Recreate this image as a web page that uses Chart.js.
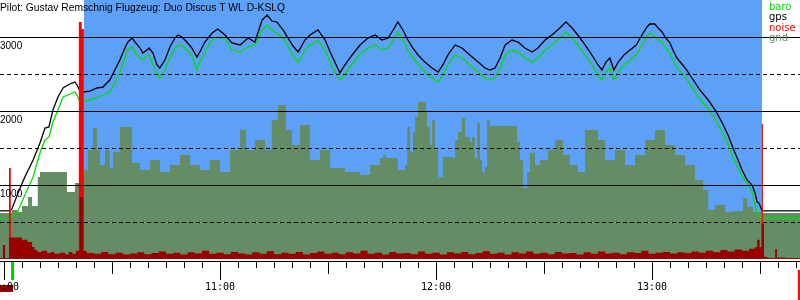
<!DOCTYPE html>
<html>
<head>
<meta charset="utf-8">
<script src="https://cdn.jsdelivr.net/npm/chart.js@4"></script>
<style>
  body { margin: 0; background: #fff; }
</style>
</head>
<body>
<canvas id="barogram" width="800" height="300"></canvas>
<script>
// all times are minutes after 10:00
const trackTime = [-1.1,1.7,2.2,3.9,5.8,8.1,10.0,11.4,12.5,13.6,
  15.0,16.4,17.8,18.9,19.7,20.3,21.1,21.9,23.9,25.8,
  27.5,29.4,30.8,32.2,33.6,34.4,35.6,36.4,37.8,38.6,
  39.7,40.3,41.4,42.5,43.3,44.7,46.1,47.5,48.3,49.4,
  50.8,52.2,53.6,54.4,55.8,57.8,59.4,61.4,63.3,65.6,
  67.8,69.7,71.7,73.1,74.4,75.8,77.5,78.9,80.3,81.7,
  83.6,85.0,87.2,89.2,90.6,91.9,93.3,94.7,96.7,98.9,
  101.1,103.1,105.0,106.7,108.1,109.4,110.8,112.2,113.6,115.0,
  116.9,118.9,120.6,121.9,123.3,125.3,127.2,129.4,131.7,133.6,
  135.0,136.4,137.8,139.2,141.1,142.8,144.7,146.7,148.3,150.3,
  152.2,154.4,156.1,157.8,159.4,161.4,163.3,165.0,166.1,167.2,
  168.3,169.4,170.6,172.2,173.9,175.6,177.2,178.6,179.4,180.8,
  181.7,182.8,183.6,185.0,185.8,186.9,189.2,191.1,193.3,195.6,
  197.5,199.4,201.1,202.5,203.9,205.0,206.4,207.8,208.6,209.2,
  209.7,210.6,221.1];
const gpsAlt = [649,649,676,892,1108,1338,1568,1770,1784,2014,
  2189,2311,2351,2378,2392,2351,2270,2257,2270,2311,
  2324,2419,2554,2689,2851,2932,2986,2932,2851,2784,
  2824,2851,2784,2622,2581,2689,2865,2986,3027,3000,
  2932,2851,2730,2797,2932,3054,3108,3027,2919,2892,
  2986,2932,3230,3297,3216,3203,3095,2986,2878,2797,
  2959,3027,3095,2959,2797,2662,2514,2622,2757,2892,
  2986,3027,2959,2986,3095,3203,3095,2959,2851,2757,
  2662,2581,2527,2622,2757,2892,2851,2757,2662,2581,
  2554,2581,2716,2892,2959,2932,2851,2797,2851,2959,
  3027,3122,3203,3122,3027,2892,2757,2622,2554,2662,
  2716,2554,2662,2757,2824,2892,3027,3135,3176,3176,
  3122,3068,3000,2919,2824,2716,2581,2446,2284,2149,
  2014,1851,1676,1500,1338,1203,1068,1000,892,770,
  757,649,649];
const baroAlt = [541,541,568,649,865,1108,1432,1608,1649,1851,
  2014,2189,2216,2243,2257,2216,2122,2122,2149,2176,
  2216,2257,2378,2527,2716,2824,2865,2797,2716,2703,
  2743,2757,2622,2500,2446,2554,2730,2851,2878,2892,
  2824,2743,2554,2662,2797,2959,3000,2973,2824,2797,
  2865,2892,3095,3162,3095,3054,2986,2878,2743,2662,
  2824,2892,2959,2824,2662,2527,2419,2500,2635,2770,
  2851,2892,2824,2851,2959,3068,2959,2824,2716,2635,
  2527,2446,2392,2486,2622,2757,2716,2622,2527,2446,
  2419,2446,2581,2757,2824,2797,2716,2662,2716,2824,
  2892,2986,3068,2986,2892,2757,2622,2486,2419,2527,
  2581,2419,2527,2622,2689,2757,2892,3014,3054,3000,
  2959,2932,2865,2784,2689,2595,2459,2324,2162,2027,
  1892,1730,1554,1378,1230,1122,1027,905,730,622,
  581,554,554];

const gndTime = [-1.1,2.2,3.9,5.0,6.7,7.8,9.4,10.0,17.5,19.7,
  21.1,22.2,23.3,24.7,25.8,26.7,28.1,29.4,30.3,32.2,
  35.6,37.8,40.6,43.3,46.1,48.9,51.7,54.4,57.2,60.0,
  62.8,65.6,67.2,69.7,72.5,74.4,76.1,78.3,80.0,82.2,
  85.0,87.8,90.6,94.7,98.9,101.7,104.4,105.3,106.1,109.4,
  111.4,112.0,112.8,113.6,114.2,115.0,117.2,117.5,118.3,118.9,
  119.7,120.6,121.9,124.4,125.3,126.1,127.2,128.1,129.4,130.0,
  130.8,131.4,132.2,132.8,133.6,134.2,135.0,142.5,143.3,144.2,
  145.3,146.1,147.5,148.9,151.1,153.1,155.3,157.2,159.4,161.4,
  165.0,166.9,169.7,172.5,175.3,178.1,180.8,183.6,186.4,189.2,
  191.9,194.2,195.6,197.5,200.3,202.5,205.3,206.4,208.1,210.6,
  221.1];
const gndAlt = [622,662,635,716,838,716,1108,1176,905,1027,
  1135,1203,1473,1770,1473,1270,1473,1230,1446,1784,
  1297,1203,1338,1176,1270,1405,1270,1203,1338,1176,
  1473,1743,1473,1608,1473,1878,2081,1743,1541,1811,
  1338,1473,1230,1176,1135,1270,1365,1405,1365,1203,
  1270,1784,1446,1716,1919,2122,1986,1784,1541,1878,
  1473,1108,1378,1365,1608,1716,1905,1649,1581,1649,
  1365,1838,1338,1176,1243,1878,1797,1581,1338,959,
  1176,1432,1270,1338,1473,1608,1405,1270,1176,1743,
  1608,1338,1473,1270,1405,1608,1743,1541,1405,1270,
  1068,932,662,730,635,649,824,703,635,622,
  622];

const noiseTime = [-1.1,-0.3,0.3,1.4,5.0,6.5,7.8,8.5,9.3,10.5,12,13,14,15.5,17,18,19,20,21,22,
  23,25,27,29,31,33,35,37,39,41,43,45,47,49,51,53,55,57,59,61,63,65,67,69,71,73,75,77,79,81,
  83,85,87,89,91,93,95,97,99,101,103,105,107,109,111,113,115,117,119,121,123,125,127,129,131,133,135,137,139,141,
  143,145,147,149,151,153,155,157,159,161,163,165,167,169,171,173,175,177,179,181,183,185,187,189,191,193,195,197,199,201,
  203,205,207,208.5,209.2,209.9,210.4,211.1,212,214.2,214.7,217,221.1];
const noiseLevel = [14,190,14,290,260,230,162,122,95,110,80,95,70,85,60,95,70,110,838,110,
  80,70,95,65,85,60,75,90,65,80,100,70,85,60,90,75,110,70,85,65,95,75,60,90,70,105,65,85,70,95,
  60,80,100,70,85,65,90,75,110,70,85,60,95,75,80,65,100,70,85,60,90,75,95,65,80,105,70,85,60,90,
  75,100,70,85,65,95,75,80,60,90,70,100,75,85,65,90,80,110,70,85,95,75,90,80,100,85,110,90,120,100,
  130,110,140,160,260,160,480,30,14,135,20,14,14];

// loud engine noise, start / end / level
const motorStart = [1.4, 20.8, 21.6, 210.5];
const motorEnd = [1.9, 21.6, 22.2, 210.8];
const motorLevel = [1230, 3203, 3108, 1824];

const flightStart = 22.2;
const flightEnd = 210.6;
const takeoffMark = 2.4;
const logEndMark = 220.8;

const solidLevels = [1000, 2000, 3000];
const dashedLevels = [500, 1500, 2500];
const hourTicks = [0, 60, 120, 180];
const hourLabels = ['10:00', '11:00', '12:00', '13:00'];
const legendNames = ['baro', 'gps', 'noise', 'gnd'];
const titleText = 'Pilot: Gustav Remschnig Flugzeug: Duo Discus T WL D-KSLQ';

const BLUE = '#5ca0f8';
const GND = '#658d65';
const legendColors = ['#00e000', '#000000', '#ff0000', GND];

function pts(xs, ys) {
  return xs.map((x, i) => ({ x: x, y: ys[i] }));
}

const motorPts = [];
motorStart.forEach((s, i) => {
  motorPts.push({ x: s, y: 0 }, { x: s, y: motorLevel[i] }, { x: motorEnd[i], y: motorLevel[i] }, { x: motorEnd[i], y: 0 });
});

const overlay = {
  id: 'overlay',
  afterDatasetsDraw(chart) {
    const ctx = chart.ctx;
    const xs = chart.scales.x, ys = chart.scales.y;
    ctx.save();
    ctx.strokeStyle = '#000';
    ctx.lineWidth = 1;

    // horizontal grid on top of the areas
    solidLevels.forEach(v => {
      const y = Math.round(ys.getPixelForValue(v)) + 0.5;
      ctx.beginPath(); ctx.moveTo(0, y); ctx.lineTo(800, y); ctx.stroke();
    });
    ctx.setLineDash([4, 3]);
    dashedLevels.forEach(v => {
      const y = Math.round(ys.getPixelForValue(v)) + 0.5;
      ctx.beginPath(); ctx.moveTo(0, y); ctx.lineTo(800, y); ctx.stroke();
    });
    ctx.setLineDash([]);

    ctx.fillStyle = '#000';
    ctx.font = '10px "Liberation Sans"';
    ctx.textAlign = 'left';
    ctx.textBaseline = 'alphabetic';
    solidLevels.forEach(v => {
      ctx.fillText(String(v), 0, ys.getPixelForValue(v) + 11.5);
    });

    // time axis
    const axisY = 261.5;
    ctx.beginPath(); ctx.moveTo(0, axisY); ctx.lineTo(800, axisY); ctx.stroke();
    for (let m = 0; m <= 220; m += 5) {
      const x = Math.round(xs.getPixelForValue(m)) + 0.5;
      const len = m % 60 === 0 ? 18 : (m % 30 === 0 ? 12 : 6);
      ctx.beginPath(); ctx.moveTo(x, 262); ctx.lineTo(x, 262 + len); ctx.stroke();
    }

    // log start box under the first label
    ctx.fillStyle = '#990000';
    ctx.fillRect(0, 285, Math.round(xs.getPixelForValue(takeoffMark)), 7);

    ctx.fillStyle = '#000';
    ctx.font = '10px "DejaVu Sans Mono"';
    ctx.textAlign = 'center';
    hourTicks.forEach((m, i) => {
      ctx.fillText(hourLabels[i], xs.getPixelForValue(m), 289.5);
    });

    let x = xs.getPixelForValue(takeoffMark);
    ctx.fillStyle = '#00cc00';
    ctx.fillRect(x - 1.5, 262, 3, 18);
    x = xs.getPixelForValue(logEndMark);
    ctx.fillStyle = '#ff0000';
    ctx.fillRect(x - 1, 270, 2, 30);

    // title and legend
    ctx.textAlign = 'left';
    ctx.fillStyle = '#000';
    ctx.font = '10.3px "Liberation Sans"';
    ctx.fillText(titleText, 0, 11);
    ctx.font = '10px "DejaVu Sans"';
    legendNames.forEach((n, i) => {
      ctx.fillStyle = legendColors[i];
      ctx.fillText(n, 769, 10 + i * 10.3);
    });
    ctx.restore();
  }
};

new Chart(document.getElementById('barogram'), {
  type: 'line',
  data: {
    // first dataset is drawn on top
    datasets: [
      { label: 'noise', data: pts(noiseTime, noiseLevel), stepped: true, fill: 'origin',
        backgroundColor: '#990000', borderWidth: 0 },
      { label: 'motor', data: motorPts, fill: 'origin', backgroundColor: '#ff0000', borderWidth: 0 },
      { label: 'gps', data: pts(trackTime, gpsAlt), borderColor: '#000000', borderWidth: 1.3, fill: false },
      { label: 'baro', data: pts(trackTime, baroAlt), borderColor: '#00e000', borderWidth: 1.3, fill: false },
      { label: 'gnd', data: pts(gndTime, gndAlt), stepped: true, fill: 'origin',
        backgroundColor: GND, borderWidth: 0 },
      { label: 'flight', data: [{ x: flightStart, y: 3500 }, { x: flightEnd, y: 3500 }], fill: 'origin',
        backgroundColor: BLUE, borderWidth: 0 }
    ]
  },
  options: {
    responsive: false,
    animation: false,
    devicePixelRatio: 1,
    layout: { padding: { left: 0, right: 0, top: 0, bottom: 41 } },
    elements: { point: { radius: 0 }, line: { tension: 0 } },
    scales: {
      x: { type: 'linear', min: -1.1, max: 221.1, display: false },
      y: { type: 'linear', min: 0, max: 3500, display: false }
    },
    plugins: { legend: { display: false }, tooltip: { enabled: false }, title: { display: false } }
  },
  plugins: [overlay]
});
</script>
</body>
</html>
